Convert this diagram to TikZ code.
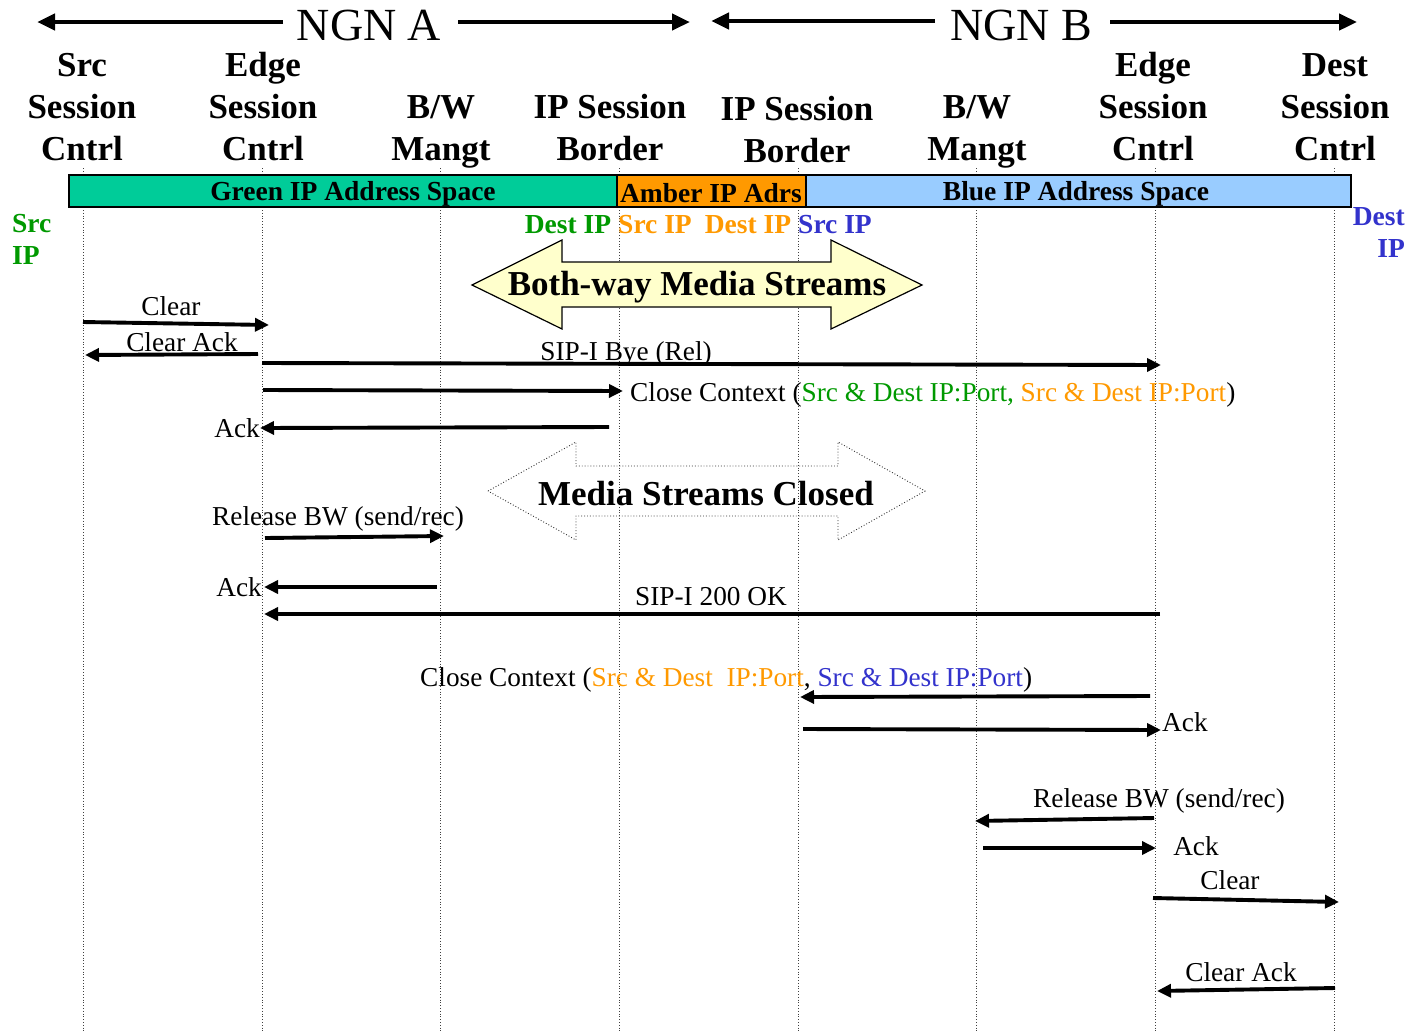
\documentclass[tikz,border=0pt]{standalone}
\usepackage{fontspec}
\setmainfont{Liberation Serif}
\usetikzlibrary{arrows.meta}

\definecolor{greenbar}{HTML}{00CC99}
\definecolor{amberbar}{HTML}{FF9900}
\definecolor{bluebar}{HTML}{99CCFF}
\definecolor{gtext}{HTML}{009900}
\definecolor{otext}{HTML}{FF9900}
\definecolor{btext}{HTML}{3333CC}
\definecolor{pale}{HTML}{FFFFCC}

\begin{document}
\begin{tikzpicture}[x=1pt,y=-1pt,
  msg/.style={line width=3.9pt,-{Triangle[length=14pt,width=13pt]}},
  netarrow/.style={line width=4.6pt,-{Triangle[length=18pt,width=16pt]}},
  lifeline/.style={dotted,line width=0.8pt,black!75},
  hdr/.style={font=\fontsize{35}{40}\selectfont\bfseries,inner sep=0pt,anchor=base},
  netname/.style={font=\fontsize{46}{50}\selectfont,inner sep=0pt,anchor=base},
  bartext/.style={font=\fontsize{27.5}{30}\selectfont\bfseries,inner sep=0pt,anchor=base},
  iptext/.style={font=\fontsize{27.5}{30}\selectfont\bfseries,inner sep=0pt},
  msgtext/.style={font=\fontsize{27.3}{30}\selectfont,inner sep=0pt},
  bigtext/.style={font=\fontsize{35}{40}\selectfont\bfseries,inner sep=0pt},
  space/.style={draw=black,line width=1.6pt}
]
\useasboundingbox (0,0) rectangle (1413,1031);

% ---- network titles with their span arrows
\node[netname] (ngna) at (369,40) {NGN A};
\node[netname] (ngnb) at (1021,40) {NGN B};
\coordinate (ngnaL) at (37,22);  \coordinate (ngnaLs) at (283,22);
\coordinate (ngnaR) at (690,22); \coordinate (ngnaRs) at (458,22);
\coordinate (ngnbL) at (711,21); \coordinate (ngnbLs) at (935,21);
\coordinate (ngnbR) at (1357,22); \coordinate (ngnbRs) at (1110,22);
\draw[netarrow] (ngnaLs) -- (ngnaL);
\draw[netarrow] (ngnaRs) -- (ngnaR);
\draw[netarrow] (ngnbLs) -- (ngnbL);
\draw[netarrow] (ngnbRs) -- (ngnbR);

% ---- column headers
\node[hdr] (h1a) at (82,76)  {Src};
\node[hdr] (h1b) at (82,118) {Session};
\node[hdr] (h1c) at (82,160) {Cntrl};
\node[hdr] (h2a) at (263,76)  {Edge};
\node[hdr] (h2b) at (263,118) {Session};
\node[hdr] (h2c) at (263,160) {Cntrl};
\node[hdr] (h3a) at (441,118) {B/W};
\node[hdr] (h3b) at (441,160) {Mangt};
\node[hdr] (h4a) at (610,118) {IP Session};
\node[hdr] (h4b) at (610,160) {Border};
\node[hdr] (h5a) at (797,120) {IP Session};
\node[hdr] (h5b) at (797,162) {Border};
\node[hdr] (h6a) at (977,118) {B/W};
\node[hdr] (h6b) at (977,160) {Mangt};
\node[hdr] (h7a) at (1153,76)  {Edge};
\node[hdr] (h7b) at (1153,118) {Session};
\node[hdr] (h7c) at (1153,160) {Cntrl};
\node[hdr] (h8a) at (1335,76)  {Dest};
\node[hdr] (h8b) at (1335,118) {Session};
\node[hdr] (h8c) at (1335,160) {Cntrl};

% ---- lifelines
\foreach \i/\x in {1/83,2/262,3/440,4/619,5/798,6/976,7/1155,8/1334}{
  \coordinate (L\i top) at (\x,168);
  \coordinate (L\i bot) at (\x,1031);
  \draw[lifeline] (L\i top) -- (L\i bot);
}

% ---- address space bar
\draw[space,fill=greenbar] (69,175) rectangle (617,207);
\draw[space,fill=amberbar] (617,175) rectangle (806,207);
\draw[space,fill=bluebar]  (806,175) rectangle (1351,207);
\node[bartext] (gsp) at (353,200) {Green IP Address Space};
\node[bartext] (asp) at (711,202) {Amber IP Adrs};
\node[bartext] (bsp) at (1076,200) {Blue IP Address Space};

% ---- IP end labels
\node[iptext,text=gtext,anchor=base west] (srcip1) at (12,232) {Src};
\node[iptext,text=gtext,anchor=base west] (srcip2) at (12,264) {IP};
\node[iptext,text=gtext,anchor=base] (ipg) at (568,233) {Dest IP};
\node[iptext,text=otext,anchor=base] (ipo1) at (655,233) {Src IP};
\node[iptext,text=otext,anchor=base] (ipo2) at (748,233) {Dest IP};
\node[iptext,text=btext,anchor=base] (ipb) at (835,233) {Src IP};
\node[iptext,text=btext,anchor=base east] (dstip1) at (1405,225) {Dest};
\node[iptext,text=btext,anchor=base east] (dstip2) at (1405,257) {IP};

% ---- both-way media streams
\draw[line width=1.2pt,fill=pale]
  (472,285) -- (562,240) -- (562,262) -- (831,262) -- (831,240) -- (922,285)
  -- (831,329) -- (831,307) -- (562,307) -- (562,329) -- cycle;
\node[bigtext] (both) at (697,287) {Both-way Media Streams};

% ---- messages
\coordinate (a1) at (83,322);   \coordinate (a2) at (269,325);
\draw[msg] (a1) -- (a2);
\node[msgtext,anchor=base] (t1) at (171,315) {Clear};

\coordinate (b1) at (258,354);  \coordinate (b2) at (85,355);
\draw[msg] (b1) -- (b2);
\node[msgtext,anchor=base] (t2) at (182,351) {Clear Ack};

\coordinate (c1) at (262,363);  \coordinate (c2) at (1161,365);
\draw[msg] (c1) -- (c2);
\node[msgtext,anchor=base] (t3) at (626,360) {SIP-I Bye (Rel)};

\coordinate (d1) at (263,390);  \coordinate (d2) at (623,391);
\draw[msg] (d1) -- (d2);
\node[msgtext,anchor=base west] (t4) at (630,401)
  {Close Context (\textcolor{gtext}{Src \& Dest IP:Port,} \textcolor{otext}{Src \& Dest IP:Port})};

\coordinate (e1) at (609,427);  \coordinate (e2) at (260,428);
\draw[msg] (e1) -- (e2);
\node[msgtext,anchor=base east] (t5) at (260,437) {Ack};

% ---- media streams closed
\draw[dotted,line width=0.9pt,black!80]
  (488,491) -- (576,442) -- (576,466) -- (838,466) -- (838,442) -- (925,491)
  -- (838,540) -- (838,516) -- (576,516) -- (576,540) -- cycle;
\node[bigtext] (closed) at (706,494) {Media Streams Closed};

\coordinate (f1) at (265,538);  \coordinate (f2) at (444,536);
\draw[msg] (f1) -- (f2);
\node[msgtext,anchor=base] (t6) at (338,525) {Release BW (send/rec)};

\coordinate (g1) at (437,587);  \coordinate (g2) at (264,587);
\draw[msg] (g1) -- (g2);
\node[msgtext,anchor=base east] (t7) at (262,596) {Ack};

\coordinate (h1) at (1160,614); \coordinate (h2) at (264,614);
\draw[msg] (h1) -- (h2);
\node[msgtext,anchor=base] (t8) at (711,605) {SIP-I 200 OK};

\coordinate (i1) at (1150,696); \coordinate (i2) at (800,697);
\draw[msg] (i1) -- (i2);
\node[msgtext,anchor=base west] (t9) at (420,686)
  {Close Context (\textcolor{otext}{Src \& Dest \ IP:Port}, \textcolor{btext}{Src \& Dest IP:Port})};

\coordinate (j1) at (803,729);  \coordinate (j2) at (1161,730);
\draw[msg] (j1) -- (j2);
\node[msgtext,anchor=base west] (t10) at (1162,731) {Ack};

\coordinate (k1) at (1154,818); \coordinate (k2) at (975,821);
\draw[msg] (k1) -- (k2);
\node[msgtext,anchor=base] (t11) at (1159,807) {Release BW (send/rec)};

\coordinate (l1) at (983,848);  \coordinate (l2) at (1156,848);
\draw[msg] (l1) -- (l2);
\node[msgtext,anchor=base] (t12) at (1196,855) {Ack};

\coordinate (m1) at (1153,898); \coordinate (m2) at (1339,902);
\draw[msg] (m1) -- (m2);
\node[msgtext,anchor=base] (t13) at (1230,889) {Clear};

\coordinate (n1) at (1335,988); \coordinate (n2) at (1157,991);
\draw[msg] (n1) -- (n2);
\node[msgtext,anchor=base] (t14) at (1241,981) {Clear Ack};
\end{tikzpicture}
\end{document}
